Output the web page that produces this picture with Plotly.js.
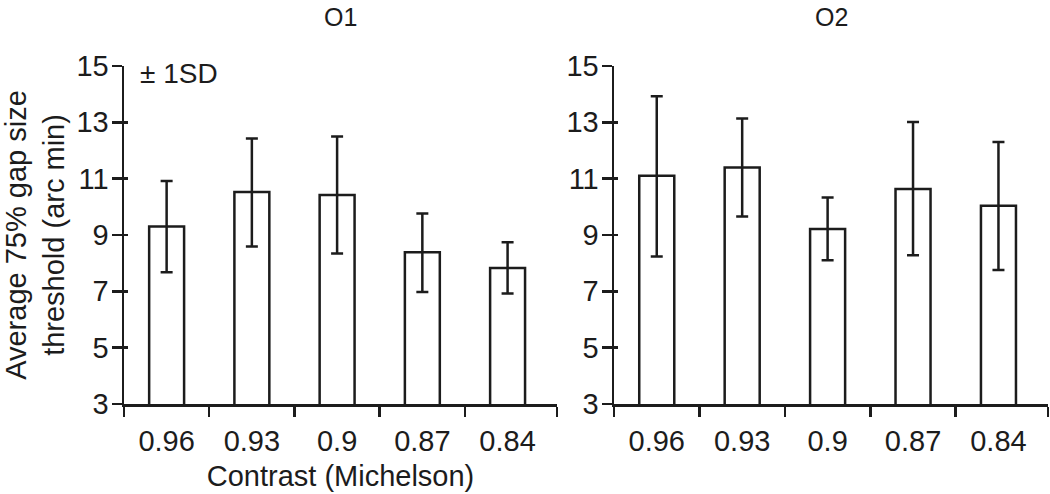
<!DOCTYPE html>
<html>
<head>
<meta charset="utf-8">
<script src="https://cdn.plot.ly/plotly-3.0.1.min.js"></script>
<style>html,body{margin:0;padding:0;background:#fff;}#chart{width:1050px;height:494px;}</style>
</head>
<body>
<div id="chart"></div>
<script>
// Data
const categories = ["0.96", "0.93", "0.9", "0.87", "0.84"];
const o1Mean  = [9.30, 10.53, 10.42, 8.39, 7.83];
const o1Upper = [10.92, 12.43, 12.50, 9.76, 8.74];
const o1Lower = [7.68, 8.59, 8.34, 6.98, 6.92];
const o2Mean  = [11.10, 11.40, 9.21, 10.63, 10.04];
const o2Upper = [13.93, 13.14, 10.33, 13.01, 12.30];
const o2Lower = [8.24, 9.66, 8.10, 8.28, 7.76];
const yTicks = [3, 5, 7, 9, 11, 13, 15];
const panelTitles = ["O1", "O2"];
const sdLabel = "± 1SD";
const xTitle = "Contrast (Michelson)";
const yTitle = "Average 75% gap size<br>threshold (arc min)";

const FONT = "Liberation Sans, Arial, Helvetica, sans-serif";
const FS = 29;
const INK = "#1c1c1c";
const LW = 2.5;
const idx = categories.map((_, i) => i);
const bounds = categories.map((_, i) => i - 0.5).concat([4.58]);
const xRange = [-0.5, 4.58];
const yRange = [3, 15];

function barTrace(mean, up, lo, xa, ya) {
  return {
    type: "bar", x: idx, y: mean, xaxis: xa, yaxis: ya, width: 0.41,
    marker: {color: "#ffffff", line: {color: INK, width: LW}},
    error_y: {type: "data", symmetric: false,
      array: up.map((v, i) => v - mean[i]),
      arrayminus: lo.map((v, i) => mean[i] - v),
      color: INK, thickness: LW, width: 6},
    showlegend: false, hoverinfo: "skip"
  };
}
// invisible helper traces so the overlay axes (labels / inner ticks) are drawn
function ghost(mean, xa, ya) {
  return {type: "scatter", mode: "markers", x: idx, y: mean, xaxis: xa, yaxis: ya,
    marker: {opacity: 0, size: 1}, showlegend: false, hoverinfo: "skip"};
}

const traces = [
  barTrace(o1Mean, o1Upper, o1Lower, "x", "y"),
  barTrace(o2Mean, o2Upper, o2Lower, "x2", "y2"),
  ghost(o1Mean, "x3", "y3"),
  ghost(o2Mean, "x4", "y4")
];

function xMain(domain, anchor) {
  return {domain: domain, range: xRange, anchor: anchor,
    tickmode: "array", tickvals: bounds, showticklabels: false,
    ticks: "outside", ticklen: 10, tickwidth: LW, tickcolor: INK,
    showline: true, linecolor: INK, linewidth: LW,
    showgrid: false, zeroline: false, fixedrange: true};
}
function xLabels(over, anchor, withTitle) {
  const a = {overlaying: over, anchor: anchor, range: xRange, side: "bottom",
    tickmode: "array", tickvals: idx, ticktext: categories,
    ticks: "outside", ticklen: 11, tickcolor: "rgba(0,0,0,0)",
    showline: false, showgrid: false, zeroline: false,
    tickfont: {family: FONT, size: FS, color: INK}, fixedrange: true};
  if (withTitle) a.title = {text: xTitle, font: {family: FONT, size: FS, color: INK}, standoff: 9};
  return a;
}
function yMain(anchor, withTitle) {
  const a = {domain: [0, 1], range: yRange, anchor: anchor,
    tickmode: "array", tickvals: yTicks,
    ticks: "outside", ticklen: 10, tickwidth: LW, tickcolor: INK,
    showline: true, linecolor: INK, linewidth: LW,
    showgrid: false, zeroline: false, ticklabelstandoff: -3,
    tickfont: {family: FONT, size: FS, color: INK}, fixedrange: true};
  if (withTitle) a.title = {text: yTitle, font: {family: FONT, size: FS, color: INK}, standoff: 4};
  return a;
}
function yInner(over, anchor) {
  return {overlaying: over, anchor: anchor, range: yRange, side: "left",
    tickmode: "array", tickvals: yTicks, showticklabels: false,
    ticks: "inside", ticklen: 4, tickwidth: LW, tickcolor: INK,
    showline: false, showgrid: false, zeroline: false, fixedrange: true};
}

const layout = {
  width: 1050, height: 494,
  margin: {l: 0, r: 0, t: 66, b: 90, pad: 0},
  paper_bgcolor: "#ffffff", plot_bgcolor: "rgba(0,0,0,0)",
  font: {family: FONT, size: FS, color: INK},
  xaxis: xMain([0.1181, 0.5305], "y"),
  xaxis2: xMain([0.5848, 0.9981], "y2"),
  xaxis3: xLabels("x", "y3", true),
  xaxis4: xLabels("x2", "y4", false),
  yaxis: yMain("x", true),
  yaxis2: yMain("x2", false),
  yaxis3: yInner("y", "x3"),
  yaxis4: yInner("y2", "x4"),
  annotations: [
    {text: panelTitles[0], xref: "x domain", yref: "paper", x: 0.5, y: 1, yshift: 49,
     showarrow: false, xanchor: "center", yanchor: "middle", font: {family: FONT, size: 25, color: INK}},
    {text: panelTitles[1], xref: "x2 domain", yref: "paper", x: 0.5, y: 1, yshift: 49,
     showarrow: false, xanchor: "center", yanchor: "middle", font: {family: FONT, size: 25, color: INK}},
    {text: sdLabel, xref: "x domain", yref: "y domain", x: 0, y: 1, xshift: 14, yshift: -7,
     showarrow: false, xanchor: "left", yanchor: "middle", font: {family: FONT, size: 28, color: INK}}
  ]
};

Plotly.newPlot("chart", traces, layout, {staticPlot: true, displayModeBar: false});
</script>
</body>
</html>
